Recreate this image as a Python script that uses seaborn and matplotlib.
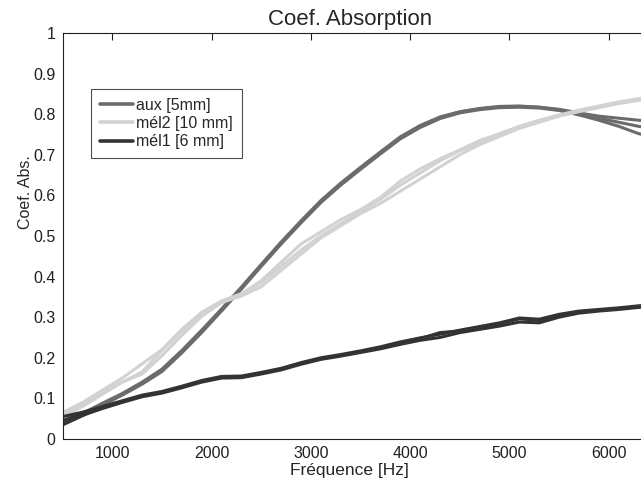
import matplotlib
matplotlib.use('Agg')
import matplotlib.pyplot as plt
import seaborn as sns
import pandas as pd

# frequency grid [Hz]
freq = [500, 700, 900, 1100, 1300, 1500, 1700, 1900, 2100, 2300, 2500,
        2700, 2900, 3100, 3300, 3500, 3700, 3900, 4100, 4300, 4500,
        4700, 4900, 5100, 5300, 5500, 5700, 5900, 6100, 6300, 6500]

# aux [5mm] - three measurements
aux_1 = [0.040, 0.060, 0.085, 0.110, 0.138, 0.170, 0.215, 0.265, 0.318, 0.372, 0.428,
         0.482, 0.535, 0.585, 0.628, 0.667, 0.705, 0.742, 0.770, 0.792, 0.805,
         0.813, 0.818, 0.819, 0.817, 0.812, 0.803, 0.795, 0.790, 0.785, 0.780]
aux_2 = [0.035, 0.057, 0.083, 0.108, 0.135, 0.166, 0.212, 0.262, 0.315, 0.369, 0.425,
         0.480, 0.532, 0.582, 0.625, 0.664, 0.702, 0.739, 0.767, 0.789, 0.803,
         0.811, 0.816, 0.817, 0.815, 0.809, 0.799, 0.790, 0.780, 0.770, 0.763]
aux_3 = [0.045, 0.063, 0.088, 0.112, 0.140, 0.172, 0.218, 0.268, 0.320, 0.374, 0.430,
         0.485, 0.537, 0.587, 0.630, 0.669, 0.707, 0.744, 0.772, 0.793, 0.806,
         0.814, 0.819, 0.820, 0.817, 0.810, 0.798, 0.785, 0.770, 0.752, 0.740]

# mél2 [10 mm] - three measurements
mel2_1 = [0.065, 0.090, 0.120, 0.150, 0.185, 0.220, 0.270, 0.312, 0.340, 0.358, 0.385,
          0.425, 0.465, 0.500, 0.530, 0.560, 0.590, 0.625, 0.655, 0.685, 0.710,
          0.730, 0.750, 0.768, 0.783, 0.797, 0.808, 0.818, 0.828, 0.836, 0.842]
mel2_2 = [0.060, 0.085, 0.115, 0.140, 0.165, 0.218, 0.265, 0.308, 0.336, 0.352, 0.375,
          0.415, 0.455, 0.495, 0.525, 0.555, 0.580, 0.610, 0.640, 0.670, 0.700,
          0.725, 0.745, 0.765, 0.780, 0.795, 0.806, 0.816, 0.826, 0.834, 0.840]
mel2_3 = [0.055, 0.080, 0.110, 0.140, 0.160, 0.205, 0.255, 0.302, 0.336, 0.357, 0.390,
          0.435, 0.480, 0.510, 0.540, 0.565, 0.595, 0.635, 0.665, 0.690, 0.712,
          0.735, 0.752, 0.770, 0.785, 0.798, 0.810, 0.820, 0.830, 0.838, 0.844]

# mél1 [6 mm] - three measurements
mel1_1 = [0.045, 0.062, 0.078, 0.092, 0.106, 0.115, 0.128, 0.142, 0.152, 0.153, 0.162,
          0.172, 0.186, 0.198, 0.206, 0.215, 0.225, 0.237, 0.247, 0.262, 0.266,
          0.275, 0.284, 0.296, 0.292, 0.305, 0.313, 0.317, 0.321, 0.326, 0.330]
mel1_2 = [0.035, 0.058, 0.075, 0.090, 0.104, 0.113, 0.126, 0.140, 0.150, 0.151, 0.160,
          0.170, 0.184, 0.196, 0.204, 0.213, 0.222, 0.233, 0.243, 0.250, 0.262,
          0.270, 0.278, 0.288, 0.286, 0.300, 0.310, 0.315, 0.319, 0.324, 0.328]
mel1_3 = [0.055, 0.066, 0.080, 0.094, 0.108, 0.117, 0.130, 0.144, 0.154, 0.155, 0.164,
          0.174, 0.188, 0.200, 0.208, 0.217, 0.227, 0.239, 0.249, 0.258, 0.268,
          0.277, 0.286, 0.298, 0.295, 0.307, 0.315, 0.319, 0.323, 0.328, 0.332]

labels = ['aux [5mm]', 'mél2 [10 mm]', 'mél1 [6 mm]']
colors = ['#6b6b6b', '#d2d2d2', '#333333']
curves = {
    labels[0]: [aux_1, aux_2, aux_3],
    labels[1]: [mel2_1, mel2_2, mel2_3],
    labels[2]: [mel1_1, mel1_2, mel1_3],
}

# long table: one row per point, 'rep' keeps the measurements apart
frames = []
for name, reps in curves.items():
    for i, vals in enumerate(reps):
        frames.append(pd.DataFrame({'freq': freq, 'coef': vals,
                                    'serie': name, 'rep': i}))
df = pd.concat(frames, ignore_index=True)

sns.set_style('white')
plt.rcParams['font.family'] = ['Liberation Sans', 'DejaVu Sans']

fig = plt.figure(figsize=(6.41, 4.84), dpi=100)
ax = fig.add_axes([0.0977, 0.093, 0.914, 0.839])

sns.lineplot(data=df, x='freq', y='coef', hue='serie', units='rep',
             estimator=None, hue_order=labels, palette=colors,
             linewidth=2.2, ax=ax, sort=False)

ax.set_xlim(500, 6400)
ax.set_ylim(0, 1)
ax.set_xticks([1000, 2000, 3000, 4000, 5000, 6000])
ax.set_yticks([0, 0.1, 0.2, 0.3, 0.4, 0.5, 0.6, 0.7, 0.8, 0.9, 1])
ax.set_yticklabels(['0', '0.1', '0.2', '0.3', '0.4', '0.5', '0.6', '0.7', '0.8', '0.9', '1'])
ax.tick_params(direction='in', length=5, width=0.8, top=True, right=True,
               labelsize=11.5, pad=5, colors='#202020')
for s in ax.spines.values():
    s.set_color('#202020')
    s.set_linewidth(0.8)

# title and labels sit a bit left / high of the axes centre, as in the original
ax.set_title('Coef. Absorption', fontsize=16, x=0.49, pad=6)
ax.set_xlabel('Fréquence [Hz]', fontsize=12.5)
ax.xaxis.set_label_coords(0.49, -0.058)
ax.set_ylabel('Coef. Abs.', fontsize=11.5)
ax.yaxis.set_label_coords(-0.05, 0.608)

leg = ax.legend(loc='upper left', bbox_to_anchor=(0.048, 0.862), borderaxespad=0,
                fontsize=11.5, frameon=True, fancybox=False, edgecolor='#202020',
                handlelength=2.1, handletextpad=0.2, labelspacing=0.2,
                borderpad=0.55, title=None)
leg.get_frame().set_linewidth(0.8)
for line in leg.get_lines():
    line.set_linewidth(2.6)

fig.savefig('out.png', dpi=100)
